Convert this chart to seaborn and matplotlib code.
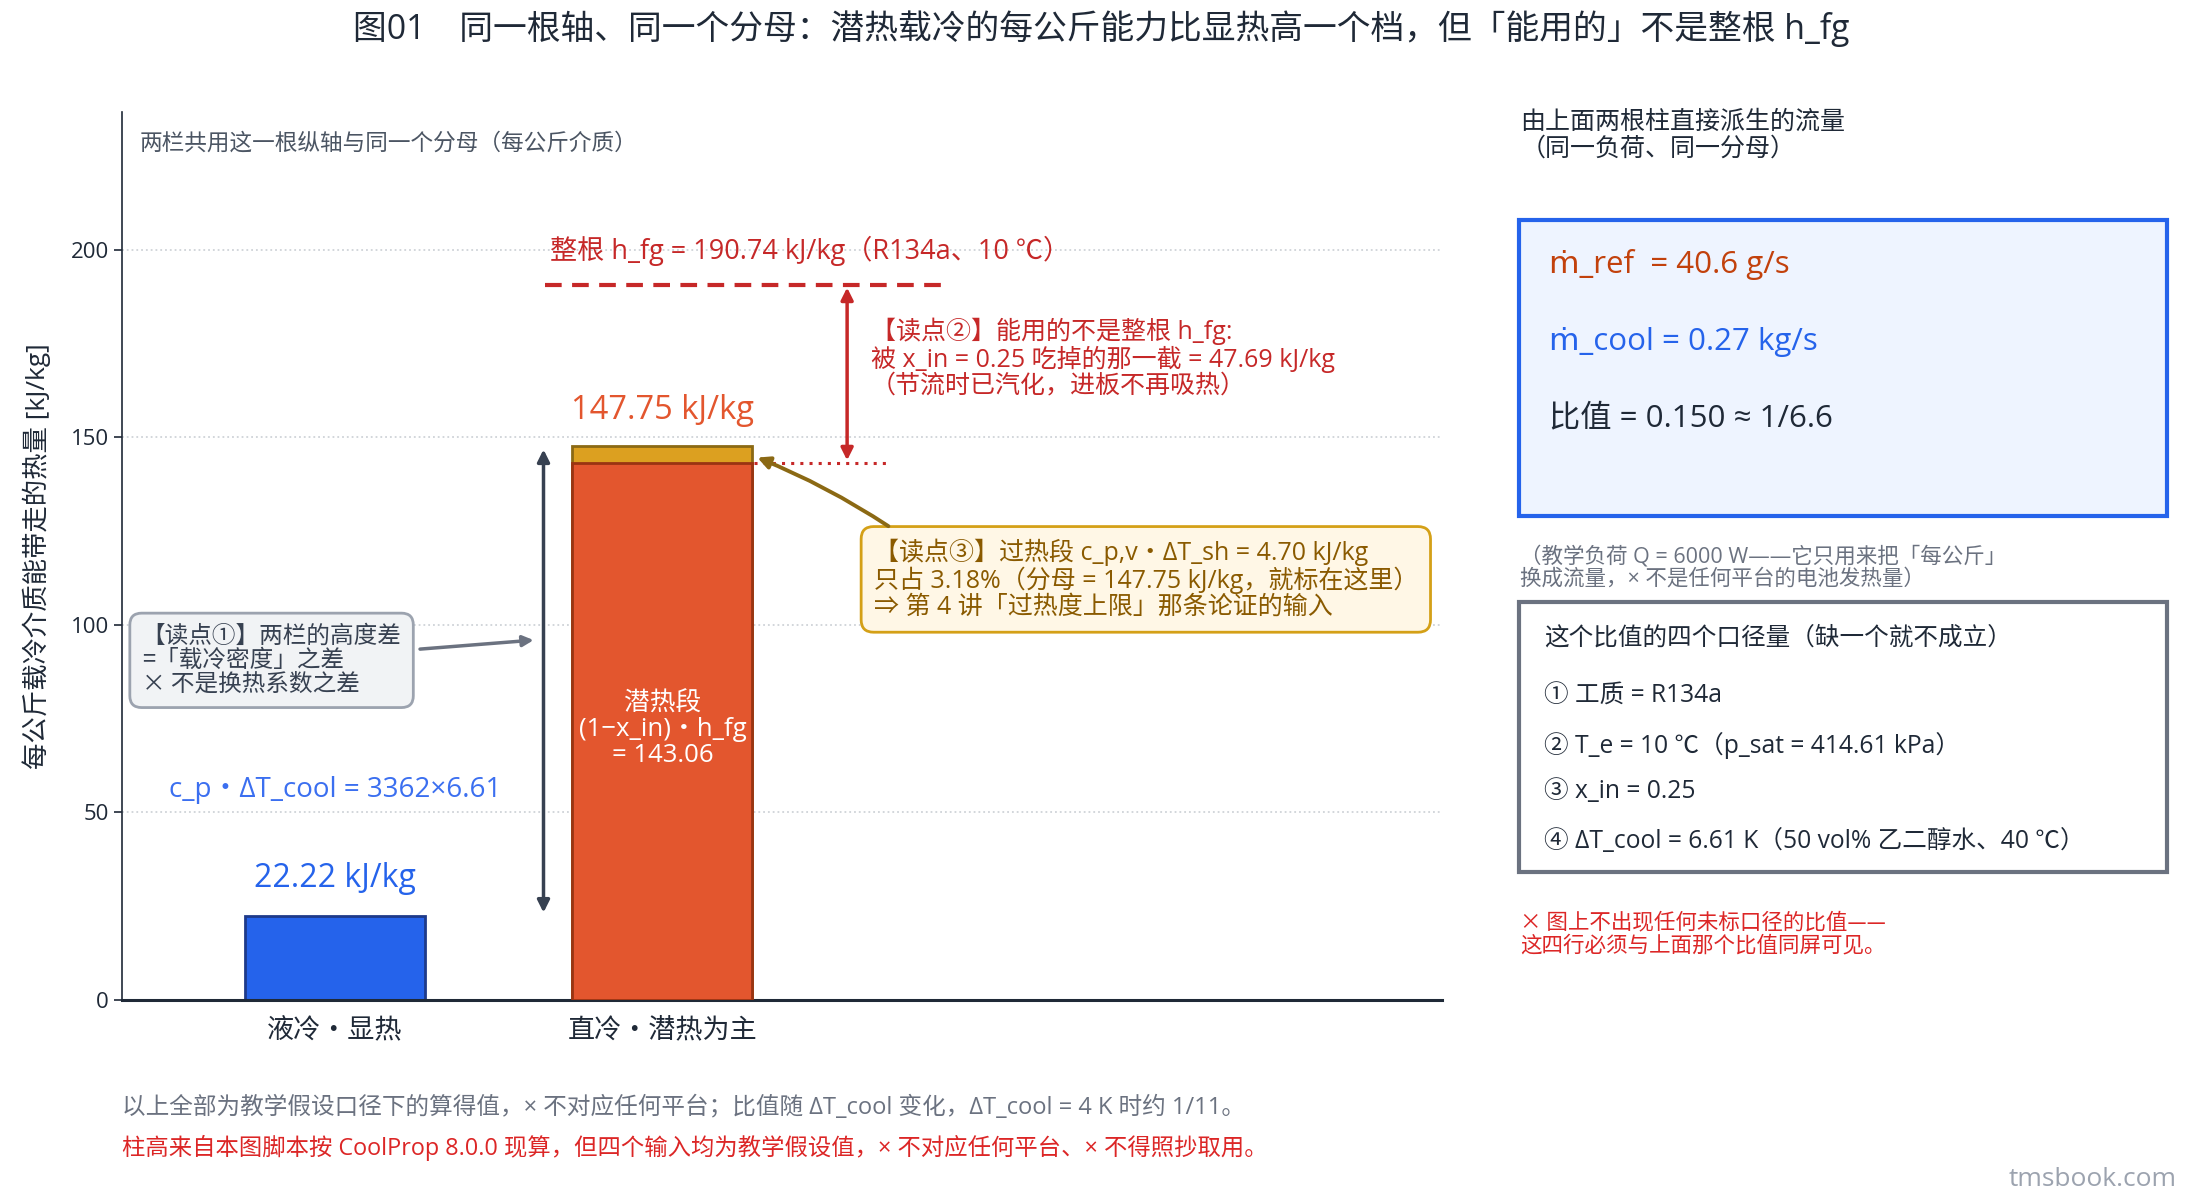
import matplotlib
matplotlib.use("Agg")
import matplotlib.pyplot as plt
from matplotlib.patches import FancyBboxPatch
import seaborn as sns
import pandas as pd

# dados do grafico
categorias = ["液冷・显热", "直冷・潜热为主"]
q_sensivel = 22.22
q_latente = 143.06
q_superaq = 4.69
q_total = [q_sensivel, q_latente + q_superaq]
h_fg = 190.74
yticks = [0, 50, 100, 150, 200]

AZUL = "#2563eb"
LARANJA = "#e3562e"
OURO = "#dca020"
VERMELHO = "#c62828"
CINZA = "#6b7280"
ESCURO = "#1f2937"

sns.set_theme(style="white")
fontes = ["Open Sans", "Noto Sans CJK SC", "DejaVu Sans"]
plt.rcParams["font.family"] = fontes
plt.rcParams["axes.unicode_minus"] = False

fig = plt.figure(figsize=(21.9, 12), dpi=100)
ax = fig.add_axes([0.0557, 0.1670, 0.6027, 0.7394])

df = pd.DataFrame({"方案": categorias, "总量": q_total})
sns.barplot(data=df, x="方案", y="总量", hue="方案", palette=[AZUL, OURO],
            width=0.55, legend=False, ax=ax, saturation=1)
bordas = ["#1e3a8a", "#8b6914"]
for p, c in zip(ax.patches, bordas):
    p.set_edgecolor(c)
    p.set_linewidth(2)
ax.bar(1, q_latente, width=0.55, color=LARANJA, edgecolor="#9a3412", linewidth=2, zorder=3)

ax.set_xlim(-0.65, 3.38)
ax.set_ylim(0, 236.7)
ax.set_yticks(yticks)
ax.set_xlabel("")
ax.set_ylabel("每公斤载冷介质能带走的热量 [kJ/kg]", fontsize=19, color=ESCURO, labelpad=14)
ax.tick_params(axis="y", labelsize=16, length=6, width=1.2, color=ESCURO, labelcolor=ESCURO, left=True)
ax.tick_params(axis="x", labelsize=19.5, length=0, labelcolor=ESCURO, pad=12)
for y in yticks[1:]:
    ax.axhline(y, color="#cfd3d8", linestyle=":", linewidth=1.3, zorder=0)
sns.despine(ax=ax)
ax.spines["left"].set_color(ESCURO)
ax.spines["left"].set_linewidth(1.2)
ax.spines["bottom"].set_color(ESCURO)
ax.spines["bottom"].set_linewidth(2.2)

ax.text(0.013, 0.965, "两栏共用这一根纵轴与同一个分母（每公斤介质）", transform=ax.transAxes,
        fontsize=16.3, color="#4b5563", ha="left", va="center")

# rotulos das barras
ax.text(0, q_sensivel + 10, f"{q_sensivel:.2f} kJ/kg", color=AZUL, fontsize=23, ha="center", va="center")
ax.text(1, q_total[1] + 9.5, f"{q_total[1]:.2f} kJ/kg", color=LARANJA, fontsize=23.5, ha="center", va="center")
ax.text(0, 55.8, "c_p・ΔT_cool = 3362×6.61", color="#3b6ff0", fontsize=20, ha="center", va="center")
ax.text(1, 72, f"潜热段\n(1−x_in)・h_fg\n= {q_latente:.2f}", color="white", fontsize=18.5,
        ha="center", va="center", linespacing=1.05, zorder=4)

# h_fg inteiro
ax.plot([0.642, 1.86], [h_fg, h_fg], color=VERMELHO, linestyle=(0, (4, 2.5)), linewidth=3)
ax.text(0.658, 199.6, f"整根 h_fg = {h_fg:.2f} kJ/kg（R134a、10 ℃）", color=VERMELHO,
        fontsize=19.5, ha="left", va="center")
ax.annotate("", xy=(1.564, q_latente + 0.8), xytext=(1.564, h_fg - 0.8),
            arrowprops=dict(arrowstyle="<|-|>", color=VERMELHO, lw=2.5, mutation_scale=18,
                            shrinkA=0, shrinkB=0))
ax.plot([1.28, 1.69], [q_latente, q_latente], color=VERMELHO, linestyle=(0, (1, 2)), linewidth=2.2)
ax.text(1.637, 171.2, "【读点②】能用的不是整根 h_fg:\n被 x_in = 0.25 吃掉的那一截 = 47.69 kJ/kg\n（节流时已汽化，进板不再吸热）",
        color=VERMELHO, fontsize=18, ha="left", va="center", linespacing=1.02)

# seta da diferenca de altura
ax.annotate("", xy=(0.637, q_sensivel + 1), xytext=(0.637, q_total[1] - 1),
            arrowprops=dict(arrowstyle="<|-|>", color="#374151", lw=2.5, mutation_scale=18,
                            shrinkA=0, shrinkB=0))
ax.text(-0.59, 90.5, "【读点①】两栏的高度差\n=「载冷密度」之差\n× 不是换热系数之差",
        color="#374151", fontsize=17, ha="left", va="center", linespacing=1.05,
        family=["Noto Sans CJK SC", "DejaVu Sans"],
        bbox=dict(boxstyle="round,pad=0.5,rounding_size=0.5", fc="#f1f3f5", ec="#9ca3af", lw=2))
ax.annotate("", xy=(0.607, 95.9), xytext=(0.26, 93.5),
            arrowprops=dict(arrowstyle="-|>", color=CINZA, lw=2.5, mutation_scale=16,
                            shrinkA=0, shrinkB=0))

# leitura 3
ax.text(1.645, 112.1, "【读点③】过热段 c_p,v・ΔT_sh = 4.70 kJ/kg\n只占 3.18%（分母 = 147.75 kJ/kg，就标在这里）\n⇒ 第 4 讲「过热度上限」那条论证的输入",
        color="#8a5a00", fontsize=18, ha="left", va="center", linespacing=1.02,
        bbox=dict(boxstyle="round,pad=0.5,rounding_size=0.5", fc="#fff7e6", ec="#d4a017", lw=2))
ax.annotate("", xy=(1.29, 144.6), xytext=(1.69, 126.3),
            arrowprops=dict(arrowstyle="-|>", color="#8b6914", lw=2.8, mutation_scale=18,
                            shrinkA=0, shrinkB=0, connectionstyle="arc3,rad=0.05"))

# titulo
fig.text(0.503, 0.976, "图01　同一根轴、同一个分母：潜热载冷的每公斤能力比显热高一个档，但「能用的」不是整根 h_fg",
         fontsize=24.3, color=ESCURO, ha="center", va="center")

# painel direito
fig.text(0.6942, 0.887, "由上面两根柱直接派生的流量\n（同一负荷、同一分母）", fontsize=18,
         color=ESCURO, ha="left", va="center", linespacing=1.1)
fig.patches.append(FancyBboxPatch((0.6936, 0.5696), 0.2961, 0.2468, boxstyle="square,pad=0",
                                  transform=fig.transFigure, fc="#eef4ff", ec=AZUL, lw=3))
fig.text(0.7071, 0.780, "ṁ_ref  = 40.6 g/s", fontsize=22.5, color="#c2410c", ha="left", va="center")
fig.text(0.7071, 0.715, "ṁ_cool = 0.27 kg/s", fontsize=22.5, color=AZUL, ha="left", va="center")
fig.text(0.7071, 0.651, "比值 = 0.150 ≈ 1/6.6", fontsize=22.5, color=ESCURO, ha="left", va="center")

fig.text(0.6942, 0.527, "（教学负荷 Q = 6000 W——它只用来把「每公斤」\n换成流量，× 不是任何平台的电池发热量）",
         fontsize=15.5, color=CINZA, ha="left", va="center", linespacing=1.1)
fig.patches.append(FancyBboxPatch((0.6936, 0.2737), 0.2961, 0.2246, boxstyle="square,pad=0",
                                  transform=fig.transFigure, fc="white", ec=CINZA, lw=3))
linhas = ["这个比值的四个口径量（缺一个就不成立）", "① 工质 = R134a", "② T_e = 10 ℃（p_sat = 414.61 kPa）",
          "③ x_in = 0.25", "④ ΔT_cool = 6.61 K（50 vol% 乙二醇水、40 ℃）"]
ys = [0.468, 0.420, 0.379, 0.340, 0.299]
for t, y in zip(linhas, ys):
    fig.text(0.7051, y, t, fontsize=17.7, color=ESCURO, ha="left", va="center")
fig.text(0.6942, 0.222, "× 图上不出现任何未标口径的比值——\n这四行必须与上面那个比值同屏可见。",
         fontsize=15.5, color="#dc2626", ha="left", va="center", linespacing=1.05,
         family=["Noto Sans CJK SC", "DejaVu Sans"])

# notas de rodape
fig.text(0.0557, 0.077, "以上全部为教学假设口径下的算得值，× 不对应任何平台；比值随 ΔT_cool 变化，ΔT_cool = 4 K 时约 1/11。",
         fontsize=17, color=CINZA, ha="left", va="center")
fig.text(0.0557, 0.043, "柱高来自本图脚本按 CoolProp 8.0.0 现算，但四个输入均为教学假设值，× 不对应任何平台、× 不得照抄取用。",
         fontsize=16.8, color="#dc2626", ha="left", va="center")
fig.text(0.994, 0.017, "tmsbook.com", fontsize=19, color="#9ca3af", ha="right", va="center")

fig.savefig("out.png", dpi=100)
